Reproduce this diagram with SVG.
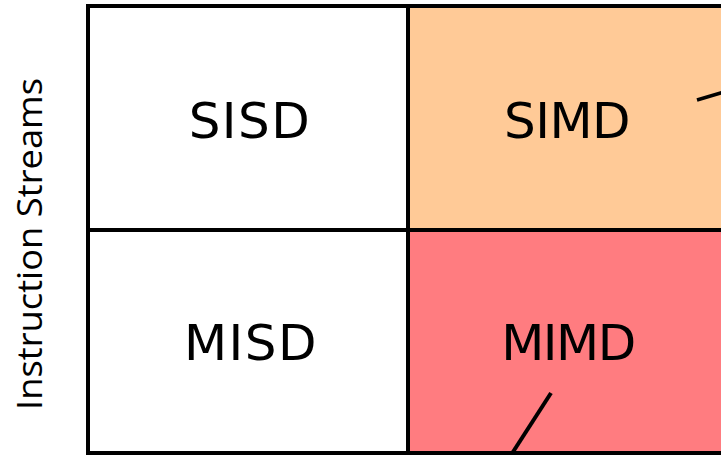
<svg xmlns="http://www.w3.org/2000/svg" width="721" height="455" viewBox="0 0 721 455">
<style>
.cell{stroke:#000;stroke-width:4}
.lbl{font-family:"DejaVu Sans",Verdana,sans-serif;font-size:50px;fill:#000;text-anchor:middle;letter-spacing:1.5px}
.axis{font-family:"Open Sans","Noto Sans",sans-serif;font-size:35px;fill:#000}
.conn{stroke:#000;stroke-width:4;fill:none}
</style>
<rect width="721" height="455" fill="#fff"/>
<g id="sisd"><rect class="cell" x="88" y="6" width="320" height="224" fill="#fff"/><text class="lbl" x="250" y="138">SISD</text></g>
<g id="simd"><rect class="cell" x="408" y="6" width="320" height="224" fill="#FFCA97"/><text class="lbl" x="567" y="138" style="letter-spacing:-0.5px">SIMD</text></g>
<g id="misd"><rect class="cell" x="88" y="230" width="320" height="223" fill="#fff"/><text class="lbl" x="251" y="360">MISD</text></g>
<g id="mimd"><rect class="cell" x="408" y="230" width="320" height="223" fill="#FF7C80"/><text class="lbl" x="568" y="360" style="letter-spacing:-1.5px">MIMD</text></g>
<g id="axis-label"><text class="axis" transform="translate(42,410) rotate(-90)" textLength="332" lengthAdjust="spacingAndGlyphs">Instruction Streams</text></g>
<g id="connectors">
<line class="conn" x1="697" y1="100" x2="724" y2="92" style="stroke-width:3.5"/>
<line class="conn" x1="551" y1="393" x2="511" y2="455"/>
</g>
</svg>
